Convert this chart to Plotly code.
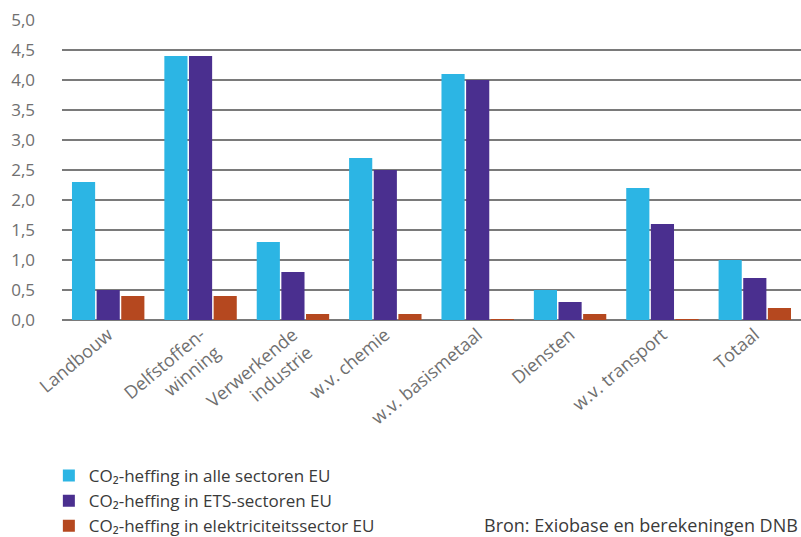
import plotly.graph_objects as go

categories = ["Landbouw", "Delfstoffen-<br>winning", "Verwerkende<br>industrie", "w.v. chemie",
              "w.v. basismetaal", "Diensten", "w.v. transport", "Totaal"]
alle = [2.3, 4.4, 1.3, 2.7, 4.1, 0.5, 2.2, 1.0]
ets = [0.5, 4.4, 0.8, 2.5, 4.0, 0.3, 1.6, 0.7]
elek = [0.4, 0.4, 0.1, 0.1, 0.01, 0.1, 0.01, 0.2]
series_names = ["CO₂-heffing in alle sectoren EU", "CO₂-heffing in ETS-sectoren EU",
                "CO₂-heffing in elektriciteitssector EU"]
colors = ["#2cb5e4", "#4a2f8f", "#b5481f"]

fig = go.Figure()
for name, vals, c in zip(series_names, [alle, ets, elek], colors):
    fig.add_trace(go.Bar(x=categories, y=vals, name=name, marker_color=c, marker_line_width=0))

gray = "#707070"
fig.update_layout(
    width=801, height=537,
    margin=dict(l=62, r=0, t=20, b=217, autoexpand=False),
    paper_bgcolor="white", plot_bgcolor="white",
    font=dict(family="Open Sans, sans-serif", color=gray, size=17),
    separators=",.",
    barmode="group", bargap=0.2, bargroupgap=0.06,
    showlegend=True,
    legend=dict(xref="container", yref="container", x=0.061, y=0.147,
                xanchor="left", yanchor="top", orientation="v",
                font=dict(size=17, color="#3a3a3a"), traceorder="normal",
                itemwidth=30, tracegroupgap=0),
    xaxis=dict(tickangle=-40, showgrid=False, showline=False, ticks="", automargin=False,
               tickfont=dict(size=18, color=gray)),
    yaxis=dict(range=[0, 5], dtick=0.5, tickformat=".1f", showgrid=True, automargin=False,
               gridcolor="#7a7a7a", gridwidth=1.5, zeroline=True, zerolinecolor="#7a7a7a",
               zerolinewidth=1.5, ticks="", tickfont=dict(size=17, color=gray),
               ticklabelstandoff=26),
    annotations=[dict(text="Bron: Exiobase en berekeningen DNB", xref="paper", yref="paper",
                      x=0.998, y=-0.683, xanchor="right", yanchor="middle", showarrow=False,
                      font=dict(size=18, color="#3a3a3a"))],
)
fig.write_html("out.html", config={"displayModeBar": False},
               post_script="document.body.style.margin='0';document.body.style.overflow='hidden';")
